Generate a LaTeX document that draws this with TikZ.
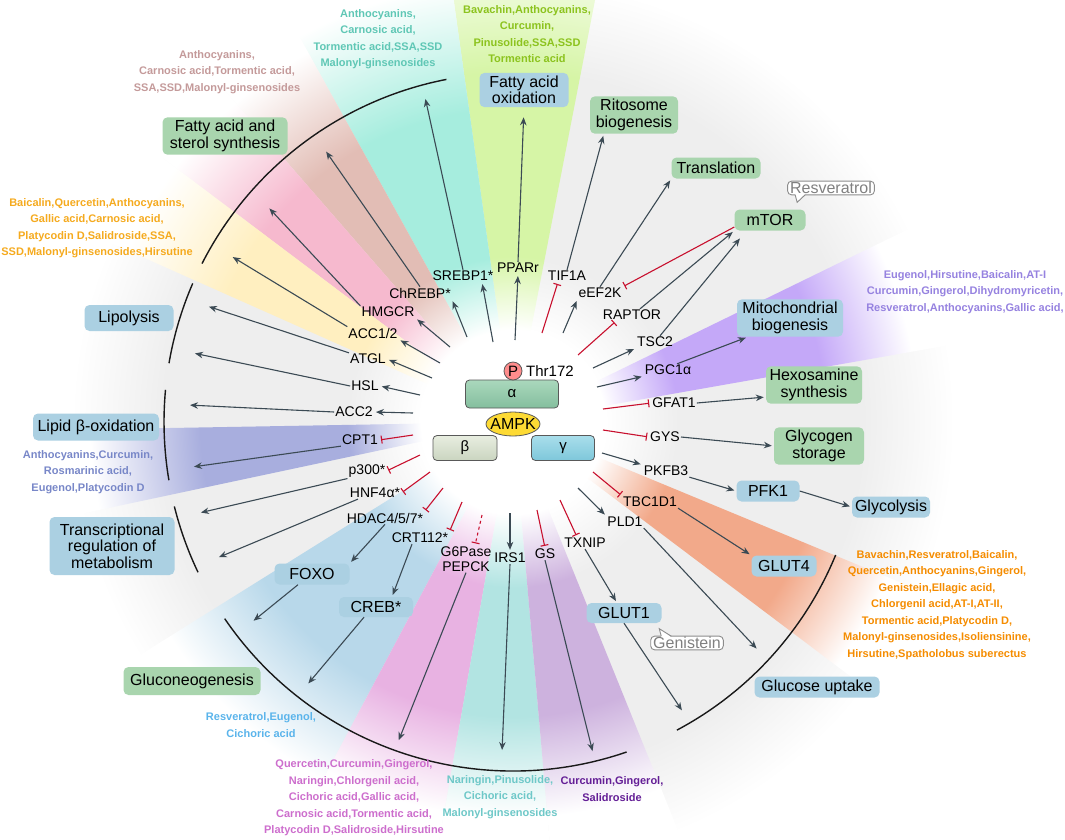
\documentclass[tikz,border=0pt]{standalone}
\usepackage{fontspec}
\setmainfont{Liberation Sans}
\usetikzlibrary{arrows.meta,shapes.geometric}

\definecolor{fangrey}{HTML}{EEEEEE}
\definecolor{fgreen}{HTML}{D6F5A6}
\definecolor{fcyan}{HTML}{A6EDDE}
\definecolor{fbrown}{HTML}{E2BDB5}
\definecolor{fpink}{HTML}{F6B9CE}
\definecolor{fyellow}{HTML}{FFEFC0}
\definecolor{fviolet}{HTML}{A8AEDE}
\definecolor{fblue}{HTML}{B8D8EA}
\definecolor{fmagenta}{HTML}{E8B2E2}
\definecolor{fteal}{HTML}{B2E4E2}
\definecolor{flilac}{HTML}{CDB2DE}
\definecolor{forange}{HTML}{F2A98A}
\definecolor{fpurple}{HTML}{C4A8F8}
\definecolor{tbrown}{HTML}{C49A9A}
\definecolor{tcyan}{HTML}{5FC7B5}
\definecolor{tgreen}{HTML}{8CC31E}
\definecolor{tyellow}{HTML}{F5AA1E}
\definecolor{tpurple}{HTML}{9682E0}
\definecolor{tviolet}{HTML}{7887C8}
\definecolor{tblue}{HTML}{5AB4EB}
\definecolor{tmagenta}{HTML}{CD6ECD}
\definecolor{tteal}{HTML}{6EC8C8}
\definecolor{tdpurple}{HTML}{641E96}
\definecolor{torange}{HTML}{F58C00}
\definecolor{boxgreen}{HTML}{A9D5AE}
\definecolor{boxblue}{HTML}{ABD0E2}
\definecolor{arrowgrey}{HTML}{3B4A54}
\definecolor{inhibred}{HTML}{C8102E}
\definecolor{alphatop}{HTML}{AAD8BC}
\definecolor{alphabot}{HTML}{84BE9E}
\definecolor{betatop}{HTML}{E8EEE0}
\definecolor{betabot}{HTML}{CAD4C0}
\definecolor{gammatop}{HTML}{A9DEEB}
\definecolor{gammabot}{HTML}{7EC7DA}

\newcommand\declarefan[3]{\pgfdeclareradialshading{fan#1}{\pgfpoint{0bp}{0bp}}{color(0bp)=(white); color(5bp)=(white); color(9bp)=(#1); color(#2bp)=(#1); color(#3bp)=(white); color(50bp)=(white)}}
\declarefan{fgreen}{19}{27}
\declarefan{fcyan}{17}{24}
\declarefan{fbrown}{17}{23}
\declarefan{fpink}{17}{23}
\declarefan{fyellow}{17}{23}
\declarefan{fviolet}{17}{23}
\declarefan{fblue}{16}{22}
\declarefan{fmagenta}{16}{21.5}
\declarefan{fteal}{16}{21.5}
\declarefan{flilac}{16}{21.5}
\declarefan{forange}{17}{22}
\declarefan{fpurple}{17}{22}
\pgfdeclareradialshading{fanbase}{\pgfpoint{0bp}{0bp}}{color(0bp)=(white); color(5bp)=(white); color(9bp)=(fangrey); color(19bp)=(fangrey); color(24bp)=(white); color(50bp)=(white)}

\newcommand\drawfan[3]{%
  \begin{scope}
    \clip (c) -- ++(#2:520) arc[start angle=#2, end angle=#3, radius=520] -- cycle;
    \shade[shading=fan#1] (c) circle[radius=460];
  \end{scope}}

\begin{document}
\begin{tikzpicture}[x=1pt, y=-1pt, >={Stealth[length=8pt,width=6.5pt]},
  act/.style={->, draw=arrowgrey, line width=1.1pt, shorten >=2pt},
  inh/.style={-{Bar[width=8pt]}, draw=inhibred, line width=1.1pt, shorten >=2pt},
  lbl/.style={font=\fontsize{14}{15}\selectfont, inner sep=1pt, align=center},
  greenbox/.style={fill=boxgreen, rounded corners=5pt, font=\fontsize{16}{16.5}\selectfont, align=center, inner sep=3pt},
  bluebox/.style={greenbox, fill=boxblue},
  cmpd/.style={font=\bfseries\fontsize{11}{16.5}\selectfont, align=center, inner sep=0pt},
  rim/.style={line width=1.4pt, draw=black!90},
  bubble/.style={draw=black!45, text=black!50, fill=white, rounded corners=4pt, line width=0.9pt, font=\fontsize{16}{17}\selectfont, inner xsep=2.5pt, inner ysep=1pt},
  subunit/.style={draw=black!65, line width=0.8pt, rounded corners=4pt, font=\fontsize{15}{15}\selectfont}]
\useasboundingbox (0,0) rectangle (1065,839);
\coordinate (c) at (513,422);

\shade[shading=fanbase] (c) circle[radius=460];
\drawfan{fgreen}{-98}{-79}
\drawfan{fcyan}{-119}{-98}
\drawfan{fbrown}{-131}{-119}
\drawfan{fpink}{-143}{-131}
\drawfan{fyellow}{-156}{-143}
\drawfan{fviolet}{-192}{-181}
\drawfan{fblue}{-242}{-212}
\drawfan{fmagenta}{-260}{-242}
\drawfan{fteal}{-275}{-260}
\drawfan{flilac}{-292}{-275}
\drawfan{forange}{-337.5}{-323}
\drawfan{fpurple}{-26}{-10}

\draw[rim] (c) ++(-101:349) arc[start angle=-101, end angle=-153, radius=349];
\draw[rim] (c) ++(-156.6:349) arc[start angle=-156.6, end angle=-170.3, radius=349];
\draw[rim] (c) ++(-174.7:349) arc[start angle=-174.7, end angle=-189.6, radius=349];
\draw[rim] (c) ++(-194:349) arc[start angle=-194, end angle=-205.5, radius=349];
\draw[rim] (c) ++(-214.3:349) arc[start angle=-214.3, end angle=-289, radius=349];
\draw[rim] (c) ++(-298:349) arc[start angle=-298, end angle=-337.6, radius=349];

\node[subunit, minimum width=93, minimum height=28, top color=alphatop, bottom color=alphabot] (alpha) at (512,394) {α};
\node[subunit, minimum width=64, minimum height=25, top color=betatop, bottom color=betabot] (beta) at (465,448) {β};
\node[subunit, minimum width=63, minimum height=25, top color=gammatop, bottom color=gammabot] (gamma) at (563,448) {γ};
\node[ellipse, draw=black!65, line width=0.8pt, fill=yellow!70!orange!80, minimum width=54, minimum height=24, inner xsep=-5pt, inner ysep=2pt, font=\fontsize{16}{16}\selectfont] (ampk) at (513,424) {AMPK};
\node[circle, draw=black!65, line width=0.8pt, fill=red!45, minimum size=18, inner sep=0pt, font=\fontsize{15}{15}\selectfont] (phos) at (513,371) {P};
\node[lbl, font=\fontsize{15}{15}\selectfont] (thr) at (550,371) {Thr172};

\node[lbl] (chrebp) at (420,293) {ChREBP*};
\node[lbl] (srebp) at (463,276) {SREBP1*};
\node[lbl] (ppar) at (518,268) {PPARr};
\node[lbl] (tif) at (567,276) {TIF1A};
\node[lbl] (eef) at (600,293) {eEF2K};
\node[lbl] (hmgcr) at (388,312) {HMGCR};
\node[lbl] (raptor) at (632,315) {RAPTOR};
\node[lbl] (acc12) at (373,333) {ACC1/2};
\node[lbl] (tsc) at (655,342) {TSC2};
\node[lbl] (atgl) at (368,359) {ATGL};
\node[lbl] (pgc) at (668,370) {PGC1α};
\node[lbl] (hsl) at (365,386) {HSL};
\node[lbl] (acc2) at (354,412) {ACC2};
\node[lbl] (gfat) at (674,403) {GFAT1};
\node[lbl] (cpt) at (360,440) {CPT1};
\node[lbl] (gys) at (665,437) {GYS};
\node[lbl] (p300) at (367,471) {p300*};
\node[lbl] (pkfb) at (666,471) {PKFB3};
\node[lbl] (hnf) at (375,493) {HNF4α*};
\node[lbl] (tbc) at (650,502) {TBC1D1};
\node[lbl] (hdac) at (385,518) {HDAC4/5/7*};
\node[lbl] (pld) at (625,522) {PLD1};
\node[lbl] (crt) at (420,538) {CRT112*};
\node[lbl] (txnip) at (585,543) {TXNIP};
\node[lbl] (g6p) at (466,559) {G6Pase\\PEPCK};
\node[lbl] (irs) at (510,558) {IRS1};
\node[lbl] (gs) at (545,554) {GS};

\node[greenbox, minimum width=125, minimum height=34] (fasyn) at (225,136) {Fatty acid and\\sterol synthesis};
\node[bluebox, minimum width=89, minimum height=34] (faox) at (524,90) {Fatty acid\\oxidation};
\node[greenbox, minimum width=88, minimum height=34] (ribo) at (634,115) {Ritosome\\biogenesis};
\node[greenbox, minimum width=89, minimum height=21] (transl) at (716,168) {Translation};
\node[greenbox, minimum width=71, minimum height=21] (mtor) at (770,220) {mTOR};
\node[bluebox, minimum width=106, minimum height=37] (mito) at (790,318) {Mitochondrial\\biogenesis};
\node[greenbox, minimum width=96, minimum height=36] (hexo) at (814,385) {Hexosamine\\synthesis};
\node[greenbox, minimum width=90, minimum height=37] (glyco) at (819,446) {Glycogen\\storage};
\node[bluebox, minimum width=63, minimum height=21] (pfk) at (768,491) {PFK1};
\node[bluebox, minimum width=74, minimum height=21] (glycol) at (891,507) {Glycolysis};
\node[bluebox, minimum width=65, minimum height=21] (glut4) at (784,566) {GLUT4};
\node[bluebox, minimum width=125, minimum height=21] (gluup) at (817,687) {Glucose uptake};
\node[bluebox, minimum width=75, minimum height=20] (glut1) at (624,613) {GLUT1};
\node[greenbox, minimum width=137, minimum height=28] (gluneo) at (192,681) {Gluconeogenesis};
\node[bluebox, minimum width=74, minimum height=20] (creb) at (376,607) {CREB*};
\node[bluebox, minimum width=75, minimum height=21] (foxo) at (312,574) {FOXO};
\node[bluebox, minimum width=125, minimum height=58] (transreg) at (112,546) {Transcriptional\\regulation of\\metabolism};
\node[bluebox, minimum width=126, minimum height=27] (lipox) at (96,427) {Lipid β-oxidation};
\node[bluebox, minimum width=89, minimum height=26] (lipol) at (129,318) {Lipolysis};

\node[bubble] (resv) at (831,188) {Resveratrol};
\fill[white] ([xshift=8pt,yshift=1.5pt]resv.south west) -- ([xshift=10pt,yshift=-7pt]resv.south west) -- ([xshift=18pt,yshift=1.5pt]resv.south west) -- cycle;
\draw[draw=black!45, line width=0.9pt] ([xshift=8pt,yshift=0.5pt]resv.south west) -- ([xshift=10pt,yshift=-7pt]resv.south west) -- ([xshift=18pt,yshift=0.5pt]resv.south west);
\node[bubble] (gen) at (687,643) {Genistein};
\fill[white] ([xshift=11pt,yshift=-1.5pt]gen.north west) -- ([xshift=9pt,yshift=7pt]gen.north west) -- ([xshift=21pt,yshift=-1.5pt]gen.north west) -- cycle;
\draw[draw=black!45, line width=0.9pt] ([xshift=11pt,yshift=-0.5pt]gen.north west) -- ([xshift=9pt,yshift=7pt]gen.north west) -- ([xshift=21pt,yshift=-0.5pt]gen.north west);

\node[cmpd, text=tbrown] (cbrown) at (217,72) {Anthocyanins,\\Carnosic acid,Tormentic acid,\\SSA,SSD,Malonyl-ginsenosides};
\node[cmpd, text=tcyan] (ccyan) at (378,39) {Anthocyanins,\\Carnosic acid,\\Tormentic acid,SSA,SSD\\Malonyl-ginsenosides};
\node[cmpd, text=tgreen] (cgreen) at (527,34) {Bavachin,Anthocyanins,\\Curcumin,\\Pinusolide,SSA,SSD\\Tormentic acid};
\node[cmpd, text=tyellow] (cyellow) at (97,228) {Baicalin,Quercetin,Anthocyanins,\\Gallic acid,Carnosic acid,\\Platycodin D,Salidroside,SSA,\\SSD,Malonyl-ginsenosides,Hirsutine};
\node[cmpd, text=tpurple] (cpurple) at (965,292) {Eugenol,Hirsutine,Baicalin,AT-I\\Curcumin,Gingerol,Dihydromyricetin,\\Resveratrol,Anthocyanins,Gallic acid,};
\node[cmpd, text=tviolet] (cviolet) at (88,472) {Anthocyanins,Curcumin,\\Rosmarinic acid,\\Eugenol,Platycodin D};
\node[cmpd, text=tblue] (cblue) at (261,725) {Resveratrol,Eugenol,\\Cichoric acid};
\node[cmpd, text=tmagenta] (cmagenta) at (354,798) {Quercetin,Curcumin,Gingerol,\\Naringin,Chlorgenil acid,\\Cichoric acid,Gallic acid,\\Carnosic acid,Tormentic acid,\\Platycodin D,Salidroside,Hirsutine};
\node[cmpd, text=tteal] (cteal) at (500,797) {Naringin,Pinusolide,\\Cichoric acid,\\Malonyl-ginsenosides};
\node[cmpd, text=tdpurple] (cdpurple) at (612,789) {Curcumin,Gingerol,\\Salidroside};
\node[cmpd, text=torange] (corange) at (937,605) {Bavachin,Resveratrol,Baicalin,\\Quercetin,Anthocyanins,Gingerol,\\Genistein,Ellagic acid,\\Chlorgenil acid,AT-I,AT-II,\\Tormentic acid,Platycodin D,\\Malonyl-ginsenosides,Isoliensinine,\\Hirsutine,Spatholobus suberectus};

\coordinate (i-hmgcr) at (450,347);
\coordinate (i-acc12) at (440,363);
\coordinate (i-atgl) at (432,378);
\coordinate (i-hsl) at (420,395);
\coordinate (i-acc2) at (413,413);
\coordinate (i-cpt) at (413,435);
\coordinate (i-p300) at (420,455);
\coordinate (i-hnf) at (430,472);
\coordinate (i-hdac) at (443,488);
\coordinate (i-crt) at (462,502);
\coordinate (i-g6p) at (482,515);
\coordinate (i-irs) at (510,513);
\coordinate (i-gs) at (537,510);
\coordinate (i-txnip) at (560,500);
\coordinate (i-pld) at (578,488);
\coordinate (i-tbc) at (593,472);
\coordinate (i-pkfb) at (602,453);
\coordinate (i-gys) at (603,430);
\coordinate (i-gfat) at (603,409);
\coordinate (i-pgc) at (597,387);
\coordinate (i-tsc) at (593,368);
\coordinate (i-raptor) at (578,355);
\coordinate (i-eef) at (563,333);
\coordinate (i-tif) at (542,333);
\coordinate (i-ppar) at (515,340);
\coordinate (i-srebp) at (493,342);
\coordinate (i-chrebp) at (467,337);

\coordinate (o-chrebp) at (325,150);
\coordinate (o-srebp) at (425,97);
\coordinate (o-pld) at (758,650);
\coordinate (o-glut1) at (683,712);
\coordinate (o-gs) at (593,753);
\coordinate (o-irs) at (502,752);
\coordinate (o-g6p) at (398,742);
\coordinate (o-creb) at (307,685);
\coordinate (o-foxo) at (252,622);
\coordinate (o-hnf) at (217,558);
\coordinate (o-p300) at (199,513);
\coordinate (o-cpt) at (192,467);
\coordinate (o-acc2) at (188,405);
\coordinate (o-hsl) at (193,353);
\coordinate (o-atgl) at (207,306);
\coordinate (o-acc12) at (231,256);
\coordinate (o-hmgcr) at (268,207);

\draw[act] (i-chrebp) -- (chrebp.south east);
\draw[act] (i-srebp) -- ([xshift=19pt]srebp.south);
\draw[act] (i-ppar) -- (ppar.south);
\draw[inh] (i-tif) -- ([xshift=-9pt]tif.south);
\draw[act] (i-eef) -- (eef.south west);
\draw[inh] (i-raptor) -- ([xshift=-16pt]raptor.south);
\draw[act] (i-tsc) -- (tsc.south west);
\draw[act] (i-pgc) -- (pgc.south west);
\draw[inh] (i-gfat) -- (gfat.west);
\draw[inh] (i-gys) -- (gys.west);
\draw[act] (i-pkfb) -- (pkfb.north west);
\draw[inh] (i-tbc) -- (tbc.north west);
\draw[act] (i-pld) -- (pld.north west);
\draw[inh] (i-txnip) -- ([xshift=-8pt]txnip.north);
\draw[inh] (i-gs) -- (gs.north);
\draw[act] (i-irs) -- (irs.north);
\draw[inh, dashed] (i-g6p) -- ([xshift=9pt]g6p.north);
\draw[inh] (i-crt) -- (crt.north east);
\draw[inh] (i-hdac) -- (hdac.north east);
\draw[inh] (i-hnf) -- (hnf.east);
\draw[inh] (i-p300) -- (p300.east);
\draw[inh] (i-cpt) -- (cpt.east);
\draw[act] (i-acc2) -- (acc2.east);
\draw[act] (i-hsl) -- (hsl.east);
\draw[act] (i-atgl) -- (atgl.east);
\draw[act] (i-acc12) -- (acc12.south east);
\draw[act] (i-hmgcr) -- (hmgcr.south east);

\draw[act] (chrebp.north) -- (o-chrebp);
\draw[act] (srebp.north) -- (o-srebp);
\draw[act, shorten >=10pt] (ppar.north) -- (faox.south);
\draw[act] (tif.north) -- ([xshift=14pt]ribo.south west);
\draw[act] (eef.north) -- (transl.south west);
\draw[inh] ([yshift=-7pt]mtor.west) -- (eef.north east);
\draw[act] ([xshift=8pt]raptor.north) -- (mtor.south west);
\draw[act, shorten >=10pt] ([xshift=5pt]tsc.north) -- ([xshift=12pt]mtor.south west);
\draw[act] ([xshift=9pt]pgc.north) -- ([xshift=11pt]mito.south west);
\draw[act] (gfat.east) -- ([yshift=-12pt]hexo.west);
\draw[act] (gys.east) -- (glyco.west);
\draw[act] (pkfb.south east) -- (pfk.west);
\draw[act] (pfk.east) -- (glycol.west);
\draw[act] (tbc.south east) -- (glut4.north west);
\draw[act] (pld.south east) -- (o-pld);
\draw[act] (txnip.south) -- ([xshift=-7pt]glut1.north);
\draw[act] (glut1.south) -- (o-glut1);
\draw[act] (gs.south) -- (o-gs);
\draw[act] (irs.south) -- (o-irs);
\draw[act] (g6p.south) -- (o-g6p);
\draw[act] ([xshift=-8pt]crt.south) -- ([xshift=16pt]creb.north);
\draw[act] ([xshift=-12pt]creb.south) -- (o-creb);
\draw[act] (hdac.south) -- (foxo.north east);
\draw[act] ([xshift=-14pt]foxo.south) -- (o-foxo);
\draw[act] ([xshift=-17pt]hnf.south) -- (o-hnf);
\draw[act] (p300.south west) -- (o-p300);
\draw[act] (cpt.south west) -- (o-cpt);
\draw[act] (acc2.west) -- (o-acc2);
\draw[act] (hsl.west) -- (o-hsl);
\draw[act] (atgl.north west) -- (o-atgl);
\draw[act] (acc12.north west) -- (o-acc12);
\draw[act] (hmgcr.north west) -- (o-hmgcr);
\end{tikzpicture}
\end{document}
